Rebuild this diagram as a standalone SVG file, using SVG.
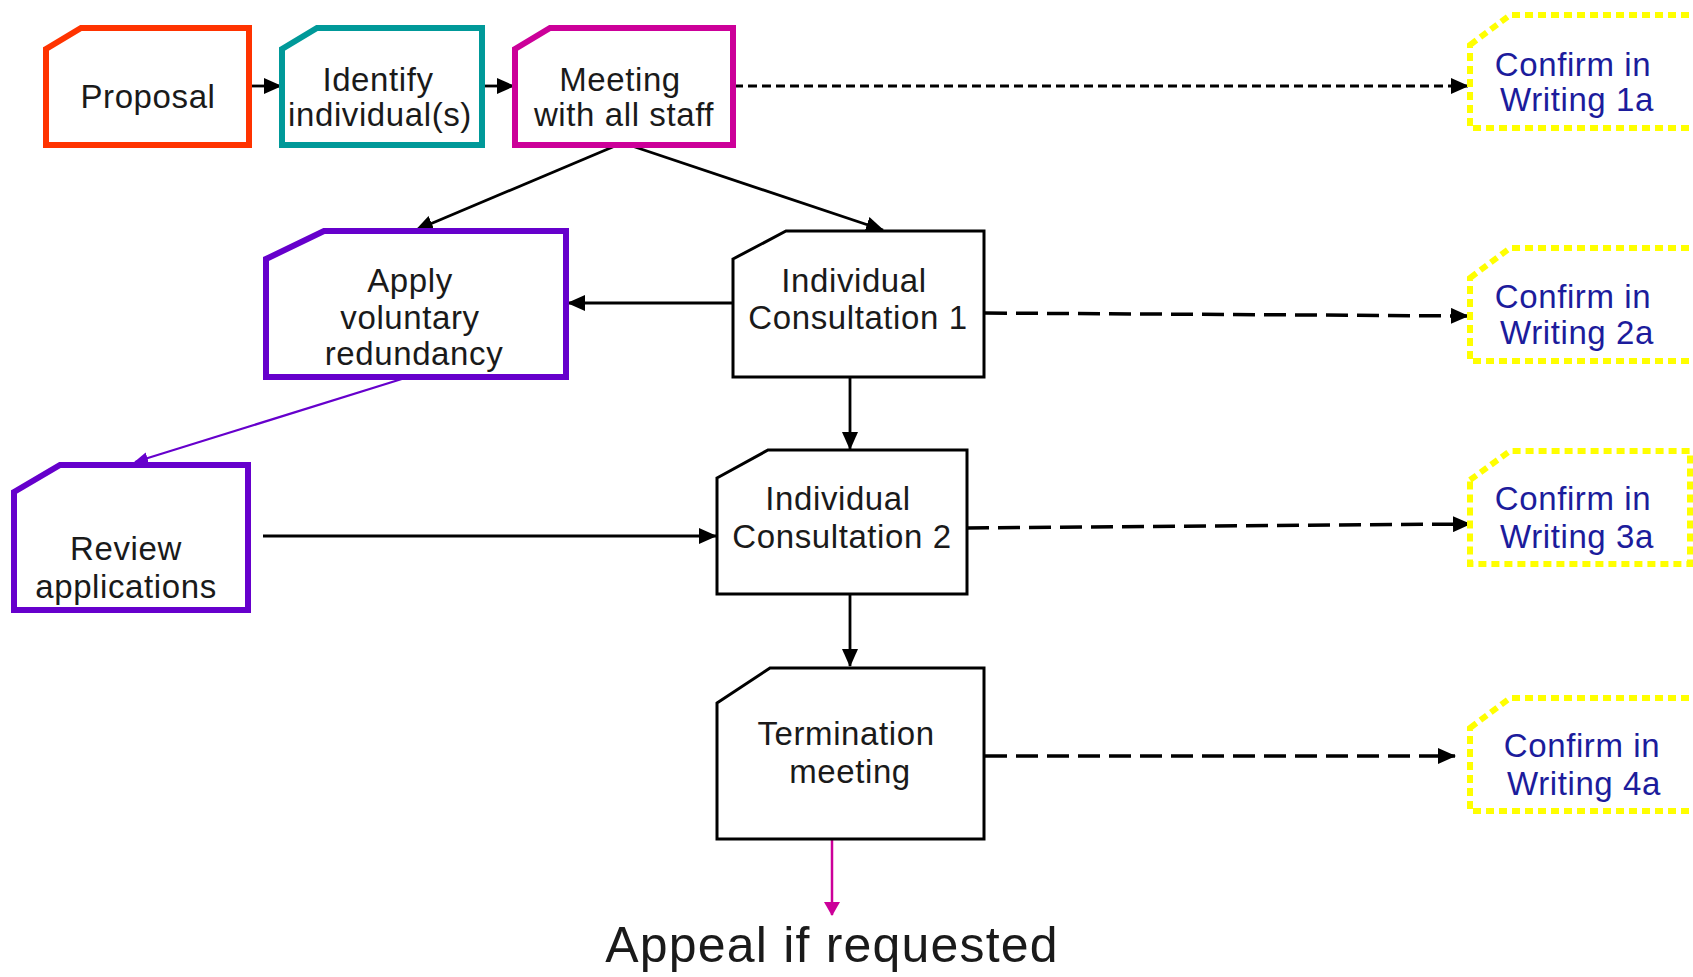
<svg xmlns="http://www.w3.org/2000/svg" width="1693" height="977" viewBox="0 0 1693 977">
<style>
.t{font-family:"Liberation Sans",Arial,sans-serif;font-size:33px;fill:#1a1a1a;text-anchor:middle;letter-spacing:0.6px}
.tb{font-family:"Liberation Sans",Arial,sans-serif;font-size:33px;fill:#1c1c9c;text-anchor:middle;letter-spacing:0.6px}
.box{fill:#fff;stroke-linejoin:miter}
.blk{stroke:#000;stroke-width:3}
.conf{fill:#fff;stroke:#ffff00;stroke-width:6;stroke-dasharray:8 5}
.c{fill:none;stroke:#000;stroke-width:2.8}
.d1{stroke-dasharray:9 5;stroke-width:3}
.d2{stroke-dasharray:22 9;stroke-width:3.5}
</style>
<defs>
<marker id="ab" markerUnits="userSpaceOnUse" markerWidth="18" markerHeight="16" refX="17" refY="8" orient="auto"><path d="M0,0 L18,8 L0,16 z" fill="#000"/></marker>
<marker id="ap" markerUnits="userSpaceOnUse" markerWidth="14" markerHeight="12" refX="13" refY="6" orient="auto"><path d="M0,0 L14,6 L0,12 z" fill="#6600cc"/></marker>
<marker id="am" markerUnits="userSpaceOnUse" markerWidth="14" markerHeight="16" refX="13" refY="8" orient="auto"><path d="M0,0 L14,8 L0,16 z" fill="#cc0099"/></marker>
</defs>

<g id="connectors">
<line class="c" x1="250" y1="86" x2="281" y2="86" marker-end="url(#ab)"/>
<line class="c" x1="483" y1="86" x2="514" y2="86" marker-end="url(#ab)"/>
<line class="c d1" x1="734" y1="86" x2="1468" y2="86" marker-end="url(#ab)"/>
<line class="c" x1="615" y1="146" x2="416" y2="230" marker-end="url(#ab)"/>
<line class="c" x1="632" y1="146" x2="883" y2="230" marker-end="url(#ab)"/>
<line class="c" x1="732" y1="303" x2="568" y2="303" marker-end="url(#ab)"/>
<line class="c d2" x1="985" y1="313" x2="1468" y2="316" marker-end="url(#ab)"/>
<line class="c" x1="850" y1="378" x2="850" y2="449" marker-end="url(#ab)"/>
<line x1="405" y1="378" x2="135" y2="462" stroke="#6600cc" stroke-width="2.2" marker-end="url(#ap)"/>
<line class="c" x1="263" y1="536" x2="716" y2="536" marker-end="url(#ab)"/>
<line class="c d2" x1="967" y1="528" x2="1470" y2="524" marker-end="url(#ab)"/>
<line class="c" x1="850" y1="595" x2="850" y2="666" marker-end="url(#ab)"/>
<line class="c d2" x1="985" y1="756" x2="1455" y2="756" marker-end="url(#ab)"/>
<line x1="832" y1="840" x2="832" y2="915" stroke="#cc0099" stroke-width="2.5" marker-end="url(#am)"/>
</g>

<g id="proposal">
<path class="box" d="M46,49 L81,28 L249,28 L249,145 L46,145 Z" stroke="#ff3300" stroke-width="6"/>
<text class="t" x="148" y="108">Proposal</text>
</g>
<g id="identify">
<path class="box" d="M282,49 L317,28 L482,28 L482,145 L282,145 Z" stroke="#009999" stroke-width="6"/>
<text class="t" x="378" y="91">Identify</text>
<text class="t" x="380" y="126">individual(s)</text>
</g>
<g id="meeting">
<path class="box" d="M515,49 L550,28 L733,28 L733,145 L515,145 Z" stroke="#cc0099" stroke-width="6"/>
<text class="t" x="620" y="91">Meeting</text>
<text class="t" x="624" y="126">with all staff</text>
</g>
<g id="confirm1a">
<path class="conf" d="M1470,45 L1510,15 L1700,15 L1700,128 L1470,128 Z"/>
<text class="tb" x="1573" y="76">Confirm in</text>
<text class="tb" x="1577" y="111">Writing 1a</text>
</g>
<g id="apply">
<path class="box" d="M266,259 L324,231 L566,231 L566,377 L266,377 Z" stroke="#6600cc" stroke-width="6"/>
<text class="t" x="410" y="292">Apply</text>
<text class="t" x="410" y="329">voluntary</text>
<text class="t" x="414" y="365">redundancy</text>
</g>
<g id="consult1">
<path class="box blk" d="M733,259 L786,231 L984,231 L984,377 L733,377 Z"/>
<text class="t" x="854" y="292">Individual</text>
<text class="t" x="858" y="329">Consultation 1</text>
</g>
<g id="confirm2a">
<path class="conf" d="M1470,278 L1510,248 L1700,248 L1700,361 L1470,361 Z"/>
<text class="tb" x="1573" y="308">Confirm in</text>
<text class="tb" x="1577" y="344">Writing 2a</text>
</g>
<g id="review">
<path class="box" d="M14,492 L60,465 L248,465 L248,610 L14,610 Z" stroke="#6600cc" stroke-width="6"/>
<text class="t" x="126" y="560">Review</text>
<text class="t" x="126" y="598">applications</text>
</g>
<g id="consult2">
<path class="box blk" d="M717,478 L768,450 L967,450 L967,594 L717,594 Z"/>
<text class="t" x="838" y="510">Individual</text>
<text class="t" x="842" y="548">Consultation 2</text>
</g>
<g id="confirm3a">
<path class="conf" d="M1470,480 L1510,451 L1690,451 L1690,564 L1470,564 Z"/>
<text class="tb" x="1573" y="510">Confirm in</text>
<text class="tb" x="1577" y="548">Writing 3a</text>
</g>
<g id="termination">
<path class="box blk" d="M717,703 L770,668 L984,668 L984,839 L717,839 Z"/>
<text class="t" x="846" y="745">Termination</text>
<text class="t" x="850" y="783">meeting</text>
</g>
<g id="confirm4a">
<path class="conf" d="M1470,728 L1510,698 L1700,698 L1700,811 L1470,811 Z"/>
<text class="tb" x="1582" y="757">Confirm in</text>
<text class="tb" x="1584" y="795">Writing 4a</text>
</g>
<g id="appeal">
<text class="t" x="832" y="962" style="font-size:50px;letter-spacing:1.2px">Appeal if requested</text>
</g>
</svg>
